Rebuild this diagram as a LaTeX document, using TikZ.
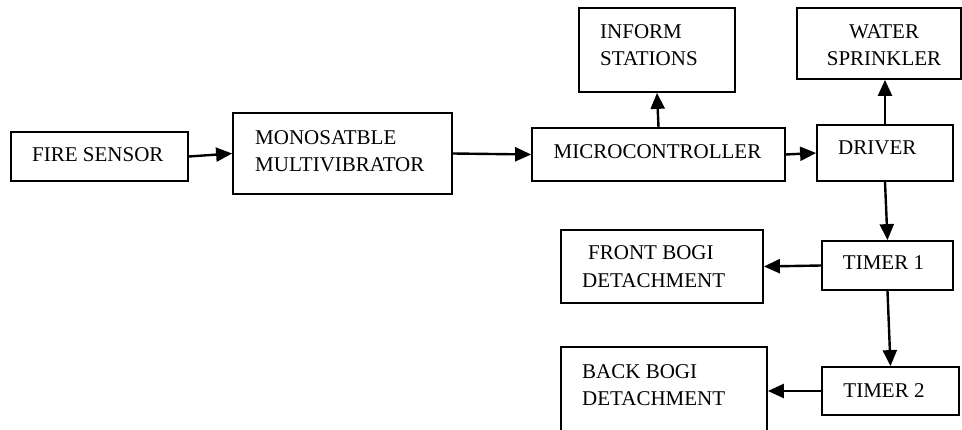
\documentclass[tikz,border=0pt]{standalone}
\usepackage{fontspec}
\setmainfont{Liberation Serif}
\usetikzlibrary{arrows.meta}
\begin{document}
\begin{tikzpicture}[x=1pt,y=-1pt,
  box/.style={draw=black,line width=1.8pt,inner sep=0pt},
  lbl/.style={inner sep=0pt,anchor=base west,font=\fontsize{21}{25}\selectfont},
  clbl/.style={inner sep=0pt,anchor=base,font=\fontsize{21}{25}\selectfont},
  conn/.style={line width=2.4pt,-{Triangle[length=16pt,width=14pt]}}]
\clip (0,0) rectangle (962,430);
\fill[white] (0,0) rectangle (962,430);
% boxes
\node[box,minimum width=177pt,minimum height=49pt] (fire) at (99.5,156.5) {};
\node[box,minimum width=219pt,minimum height=81pt] (mono) at (342.5,153.5) {};
\node[box,minimum width=253pt,minimum height=53pt] (mc) at (658.5,154.5) {};
\node[box,minimum width=156pt,minimum height=84pt] (inform) at (657,50) {};
\node[box,minimum width=136pt,minimum height=56pt] (driver) at (885,153) {};
\node[box,minimum width=164pt,minimum height=71pt] (water) at (879,43.5) {};
\node[box,minimum width=131pt,minimum height=49pt] (timer1) at (887.5,265.5) {};
\node[box,minimum width=202pt,minimum height=73pt] (front) at (662,266.5) {};
\node[box,minimum width=137pt,minimum height=48pt] (timer2) at (890.5,391) {};
\node[box,minimum width=206pt,minimum height=100pt] (back) at (664,397) {};
% texts
\node[lbl] (tfire) at (32,162) {FIRE SENSOR};
\node[lbl] (tmono1) at (255,145) {MONOSATBLE};
\node[lbl] (tmono2) at (255,172) {MULTIVIBRATOR};
\node[clbl] (tmc) at (657.5,159) {MICROCONTROLLER};
\node[lbl] (tinf1) at (600,39) {INFORM};
\node[lbl] (tinf2) at (600,66) {STATIONS};
\node[clbl] (twat1) at (884,39) {WATER};
\node[clbl] (twat2) at (884,66) {SPRINKLER};
\node[lbl] (tdrv) at (838,155) {DRIVER};
\node[clbl] (tt1) at (883.5,270) {TIMER 1};
\node[clbl] (tt2) at (884,398) {TIMER 2};
\node[lbl] (tfr1) at (588,260) {FRONT BOGI};
\node[lbl] (tfr2) at (582,288) {DETACHMENT};
\node[lbl] (tbk1) at (582,379) {BACK BOGI};
\node[lbl] (tbk2) at (582,406) {DETACHMENT};
% connectors
\draw[conn] (fire.east) -- (mono.west);
\draw[conn] (mono.east) -- (mc.west);
\draw[conn] (mc.east) -- (driver.west);
\draw[conn] (mc.north) -- (inform.south);
\draw[conn] (driver.north) -- (driver.north |- water.south);
\draw[conn] (driver.south) -- (timer1.north);
\draw[conn] (timer1.south) -- (timer2.north);
\draw[conn] (timer1.west) -- (front.east);
\draw[conn] (timer2.west) -- (timer2.west -| back.east);
\end{tikzpicture}
\end{document}
